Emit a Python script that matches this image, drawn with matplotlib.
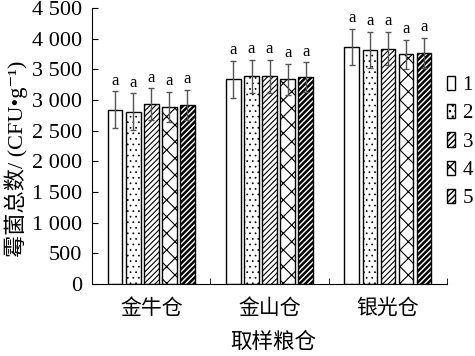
import numpy as np
import matplotlib
matplotlib.use("Agg")
import matplotlib.pyplot as plt
from matplotlib.ticker import FixedLocator, FuncFormatter

# ------------------------------------
# DATA
# ------------------------------------
granaries = ["金牛仓", "金山仓", "银光仓"]
series = ["1", "2", "3", "4", "5"]
s1 = [2840, 3337, 3863]
s2 = [2810, 3385, 3814]
s3 = [2935, 3385, 3836]
s4 = [2885, 3337, 3744]
s5 = [2915, 3369, 3771]
e1 = [300, 300, 300]
e2 = [295, 270, 300]
e3 = [255, 270, 275]
e4 = [250, 250, 240]
e5 = [250, 245, 245]
sig = ["a", "a", "a"]

values = [s1, s2, s3, s4, s5]
errors = [e1, e2, e3, e4, e5]
hatches = ["", "...", "//////", "xx", "//////"]
hatch_lw = [0.8, 0.5, 0.8, 0.8, 1.8]

# ------------------------------------
# STYLE
# ------------------------------------
plt.rcParams["font.family"] = ["Liberation Serif", "Noto Sans CJK SC", "DejaVu Serif"]

fig = plt.figure(figsize=(4.75, 3.56), dpi=100)
ax = fig.add_axes([0.194, 0.202, 0.747, 0.776])

width = 0.123
pitch = 0.1525
centers = np.arange(len(granaries)) + 0.5

for i, (vals, errs) in enumerate(zip(values, errors)):
    x = centers + (i - 2) * pitch
    with plt.rc_context({"hatch.linewidth": hatch_lw[i]}):
        ax.bar(x, vals, width=width, color="white", edgecolor="black",
               linewidth=1.0, hatch=hatches[i], label=series[i], zorder=2)
    ax.errorbar(x, vals, yerr=errs, fmt="none", ecolor="#555555",
                elinewidth=1.0, capsize=2.5, capthick=1.0, zorder=3)
    for xi, v, e, s in zip(x, vals, errs, sig):
        ax.text(xi, v + e + 40, s, ha="center", va="bottom", fontsize=12)

ax.set_xlim(0, 3)
ax.set_ylim(0, 4500)
ax.spines["top"].set_visible(False)
ax.spines["right"].set_visible(False)

ax.set_yticks(np.arange(0, 4501, 500))
ax.yaxis.set_major_formatter(FuncFormatter(lambda v, p: f"{int(v):,}".replace(",", " ")))
ax.tick_params(axis="y", direction="in", length=4, labelsize=16, pad=7)

ax.set_xticks(centers)
ax.set_xticklabels(granaries, fontsize=15)
ax.xaxis.set_minor_locator(FixedLocator([1, 2, 3]))
ax.tick_params(axis="x", which="major", length=0, pad=11)
ax.tick_params(axis="x", which="minor", direction="in", length=4)

ax.set_xlabel("取样粮仓", fontsize=15.5, va="center")
ax.xaxis.set_label_coords(0.51, -0.214)
ax.set_ylabel("霉菌总数/ (CFU•g⁻¹)", fontsize=16, va="center")
ax.yaxis.set_label_coords(-0.215, 0.455)

ax.legend(loc="upper left", bbox_to_anchor=(1.0, 0.755), frameon=False,
          fontsize=15, handlelength=0.4, handleheight=0.7, handletextpad=0.35,
          labelspacing=0.42, borderaxespad=0.0, borderpad=0.0)

fig.savefig("out.png", dpi=100)
